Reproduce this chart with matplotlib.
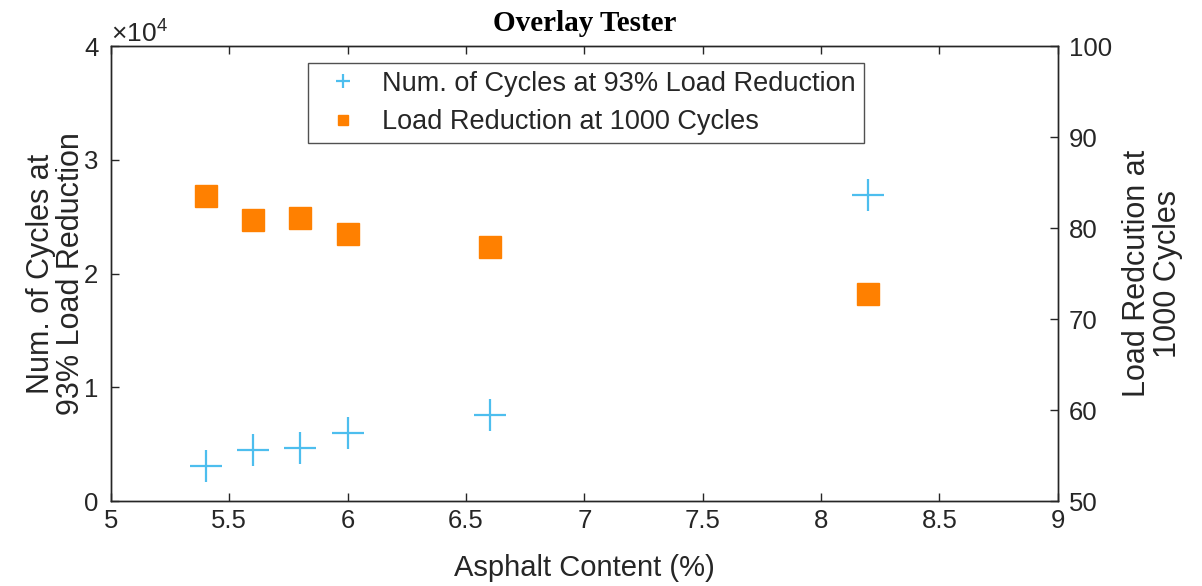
import matplotlib.pyplot as plt

# data
asphalt = [5.4, 5.6, 5.8, 6.0, 6.6, 8.2]
cycles_93 = [3050, 4500, 4650, 6000, 7600, 26900]
load_red_1000 = [83.5, 80.9, 81.1, 79.3, 77.9, 72.7]

cyan = '#4DBEEE'
orange = '#FF8000'
txt = '#262626'

plt.rcParams['font.family'] = ['Liberation Sans', 'DejaVu Sans']
plt.rcParams['mathtext.fontset'] = 'custom'
plt.rcParams['mathtext.rm'] = 'Liberation Sans'

fig = plt.figure(figsize=(12.02, 5.86), dpi=100)
ax = fig.add_subplot(111)
fig.subplots_adjust(left=0.0923, right=0.880, top=0.9215, bottom=0.145)
ax2 = ax.twinx()

l1, = ax.plot(asphalt, cycles_93, linestyle='none', marker='+', markersize=23,
              markeredgewidth=1.6, color=cyan, label='Num. of Cycles at 93% Load Reduction')
l2, = ax2.plot(asphalt, load_red_1000, linestyle='none', marker='s', markersize=16.5,
               color=orange, markeredgecolor=orange, label='Load Reduction at 1000 Cycles')

ax.set_xlim(5, 9)
ax.set_ylim(0, 40000)
ax2.set_ylim(50, 100)
ax.set_xticks([5, 5.5, 6, 6.5, 7, 7.5, 8, 8.5, 9])
ax.set_xticklabels(['5', '5.5', '6', '6.5', '7', '7.5', '8', '8.5', '9'])
ax.set_yticks([0, 10000, 20000, 30000, 40000])
ax.set_yticklabels(['0', '1', '2', '3', '4'])
ax2.set_yticks([50, 60, 70, 80, 90, 100])

ax.text(0.0, 0.998, r'$\times10^4$', transform=ax.transAxes, fontsize=19,
        color=txt, ha='left', va='bottom')

ax.tick_params(axis='x', direction='in', top=True, length=6, width=1, labelsize=18.5,
               colors=txt, pad=6)
ax.tick_params(axis='y', direction='in', length=6, width=1, labelsize=18.5, colors=txt, pad=9)
ax2.tick_params(axis='y', direction='in', length=6, width=1, labelsize=18.5, colors=txt, pad=8)

for a in (ax, ax2):
    for s in a.spines.values():
        s.set_color(txt)
        s.set_linewidth(1.0)

ax.set_xlabel('Asphalt Content (%)', fontsize=21, color=txt, labelpad=15)
ax.set_ylabel('Num. of Cycles at\n93% Load Reduction', fontsize=22, color=txt,
              labelpad=-1.5, linespacing=1.0)
ax2.set_ylabel('Load Redcution at\n1000 Cycles', fontsize=22, color=txt,
               rotation=90, labelpad=7, linespacing=1.05)
ax.set_title('Overlay Tester', fontsize=21, fontweight='bold', family='Liberation Serif',
             color='black', pad=11)

leg = ax2.legend(handles=[l1, l2], loc='upper left', bbox_to_anchor=(0.208, 0.963),
                 fontsize=19.5, markerscale=0.42, frameon=True, fancybox=False,
                 edgecolor=txt, borderpad=0.3, handletextpad=0.45, handlelength=2.0,
                 labelspacing=0.45, borderaxespad=0)
leg.get_frame().set_linewidth(1.0)
for t in leg.get_texts():
    t.set_color(txt)

fig.savefig('out.png', dpi=100)
